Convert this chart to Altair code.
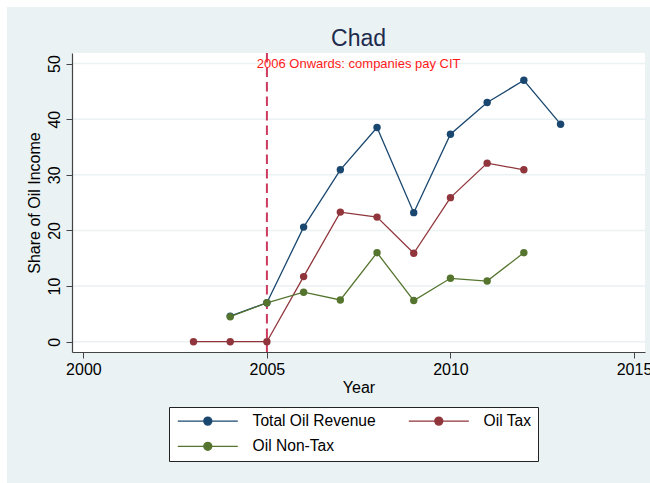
import altair as alt
import pandas as pd

# Series values (share of oil income, %)
total_years = [2004, 2005, 2006, 2007, 2008, 2009, 2010, 2011, 2012, 2013]
total_vals = [4.6, 7.0, 20.6, 30.9, 38.5, 23.2, 37.3, 43.0, 47.0, 39.1]

tax_years = [2003, 2004, 2005, 2006, 2007, 2008, 2009, 2010, 2011, 2012]
tax_vals = [0.0, 0.0, 0.0, 11.7, 23.3, 22.4, 15.9, 25.9, 32.1, 30.9]

nontax_years = [2004, 2005, 2006, 2007, 2008, 2009, 2010, 2011, 2012]
nontax_vals = [4.5, 7.0, 8.9, 7.5, 16.0, 7.4, 11.4, 10.9, 16.0]

series_names = ["Total Oil Revenue", "Oil Tax", "Oil Non-Tax"]
series_colors = ["#1a476f", "#90353b", "#55752f"]

x_ticks = [2000, 2005, 2010, 2015]
y_ticks = [0, 10, 20, 30, 40, 50]

policy_year = 2005
note_text = "2006 Onwards: companies pay CIT"
note_x, note_y = 2007.5, 50

FONT = "Liberation Sans"
BG = "#EAF2F3"
W, H = 573, 299

rows = []
for name, years, vals in zip(series_names,
                             [total_years, tax_years, nontax_years],
                             [total_vals, tax_vals, nontax_vals]):
    for yr, v in zip(years, vals):
        rows.append({"Year": yr, "Share": v, "Series": name})
df = pd.DataFrame(rows)

xscale = alt.Scale(domain=[1999.69, 2015.3], nice=False, zero=False)
yscale = alt.Scale(domain=[-1.85, 51.9], nice=False, zero=False)

x_axis = alt.Axis(
    values=x_ticks, format="d", title="Year", grid=False,
    labelFontSize=16, titleFontSize=16, labelFont=FONT, titleFont=FONT,
    titleFontWeight="normal", labelColor="black", titleColor="black",
    tickSize=6, tickColor="#444", domainColor="#444", domainWidth=1.2,
    labelPadding=3, titlePadding=2, labelFlush=False, zindex=1,
)
y_axis = alt.Axis(
    values=y_ticks, title="Share of Oil Income", grid=False,
    labelAngle=270, labelAlign="center", labelBaseline="alphabetic",
    labelFontSize=16, titleFontSize=16, labelFont=FONT, titleFont=FONT,
    titleFontWeight="normal", labelColor="black", titleColor="black",
    tickSize=6, tickColor="#444", domainColor="#444", domainWidth=1.2,
    labelPadding=7, titlePadding=4, zindex=1,
)
X = lambda: alt.X("Year:Q", scale=xscale, axis=x_axis)
Y = lambda: alt.Y("Share:Q", scale=yscale, axis=y_axis)

one = alt.Data(values=[{}])

# outer graph region and white plot region
outer = alt.Chart(one).mark_rect(color=BG).encode(
    x=alt.value(-65), x2=alt.value(W + 10), y=alt.value(-46), y2=alt.value(H + 140)
)
inner = alt.Chart(one).mark_rect(color="white").encode(
    x=alt.value(0), x2=alt.value(W), y=alt.value(0), y2=alt.value(H)
)

grid = alt.Chart(alt.Data(values=[{"Share": t} for t in y_ticks])).mark_rule(
    color=BG, strokeWidth=1.5
).encode(y=Y())

vline = alt.Chart(alt.Data(values=[{"Year": policy_year}])).mark_rule(
    color="#CE3A5F", strokeWidth=2, strokeDash=[9.5, 5]
).encode(x=X())

legend_path = "M-1,0H11M5.8,0A0.8,0.8,0,1,1,4.2,0A0.8,0.8,0,1,1,5.8,0Z"

lines = alt.Chart(df).mark_line(
    strokeWidth=1.3,
    point=alt.OverlayMarkDef(filled=True, size=55, opacity=1),
).encode(
    x=X(),
    y=Y(),
    color=alt.Color("Series:N", sort=series_names,
                    scale=alt.Scale(domain=series_names, range=series_colors),
                    legend=alt.Legend(
                        title=None, orient="none", legendX=97, legendY=354,
                        direction="horizontal", columns=2,
                        symbolType=legend_path, symbolSize=100,
                        symbolStrokeWidth=1.3, labelOffset=62,
                        columnPadding=30, rowPadding=8.5, padding=6,
                        strokeColor="#222", fillColor="white",
                        labelFontSize=15.6, labelFont=FONT, labelColor="black",
                        labelLimit=0, symbolOpacity=1,
                    )),
)

note = alt.Chart(alt.Data(values=[{"Year": note_x, "Share": note_y, "t": note_text}])).mark_text(
    color="#FF1A1A", fontSize=13, font=FONT, align="center", baseline="middle"
).encode(x=X(), y=Y(), text="t:N")

title = alt.Chart(alt.Data(values=[{"t": "Chad"}])).mark_text(
    color="#1E2B4E", fontSize=23, font=FONT, align="center", baseline="alphabetic"
).encode(x=alt.value(W / 2), y=alt.value(-7.3), text="t:N")

chart = alt.layer(outer, inner, grid, vline, lines, note, title).properties(
    width=W, height=H,
    padding={"left": 72, "top": 53, "right": 5, "bottom": 131},
    autosize=alt.AutoSizeParams(type="none"),
    background="white",
).configure_view(stroke=None, fill=None)

chart.save("out.html", embed_options={"renderer": "svg", "actions": False})
